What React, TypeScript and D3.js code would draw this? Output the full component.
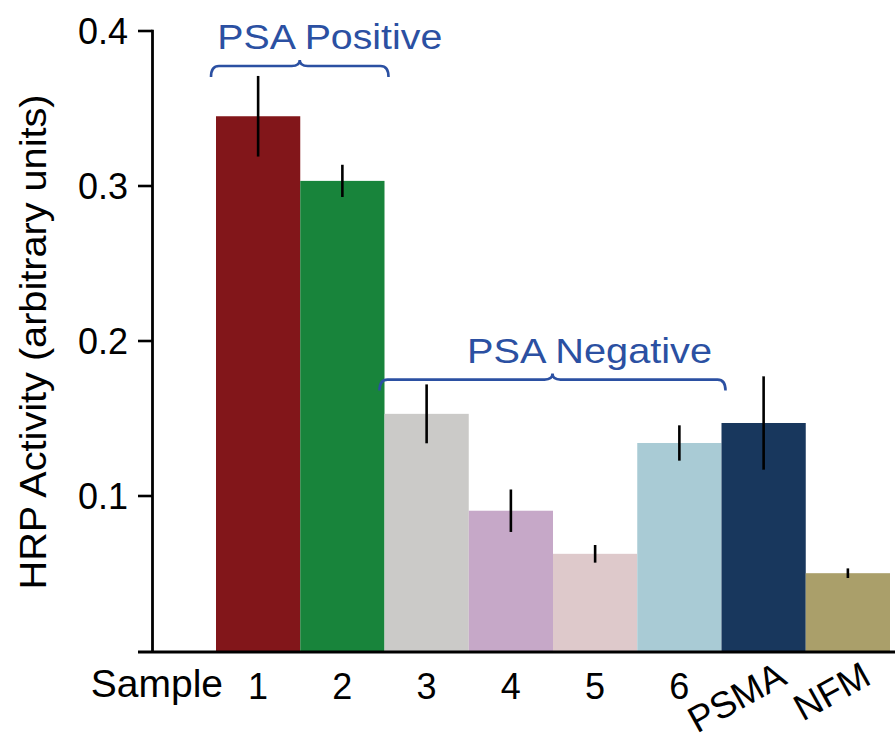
import React from "react";
import * as d3 from "d3";

const categories = ["1", "2", "3", "4", "5", "6", "PSMA", "NFM"];
const values = [0.345, 0.3033, 0.153, 0.0905, 0.0627, 0.1342, 0.1471, 0.0502];
const errors = [0.026, 0.0104, 0.019, 0.0137, 0.0057, 0.0114, 0.0301, 0.0031];
const colors = ["#82161a", "#18843b", "#cbcac8", "#c6a8c8", "#dec9cb", "#a9cbd5", "#18375d", "#aa9f6a"];
const yTicks = [0.1, 0.2, 0.3, 0.4];
const groupLabels = ["PSA Positive", "PSA Negative"];
const groupFrom = ["1", "3"];
const groupTo = ["2", "6"];
const groupLevel = [0.3774, 0.1751];

const W = 895;
const H = 745;

export default function App() {
  const x = d3.scaleBand<string>().domain(categories).range([216, 890]).padding(0);
  const y = d3.scaleLinear().domain([0, 0.4]).range([651, 31]);
  const axisX = 152.5;
  const rotated = new Set(["PSMA", "NFM"]);
  const blue = "#2b50a2";

  const brace = (x1: number, x2: number, yl: number) => {
    const xc = (x1 + x2) / 2;
    const r = 8;
    const drop = 11;
    const tip = 6;
    return `M${x1},${yl + drop} Q${x1},${yl} ${x1 + r},${yl} L${xc - r},${yl} Q${xc},${yl} ${xc},${yl - tip} Q${xc},${yl} ${xc + r},${yl} L${x2 - r},${yl} Q${x2},${yl} ${x2},${yl + drop}`;
  };

  const textStretch = [225, 245];
  const textOffset = [30, 37];

  return (
    <svg width={W} height={H} style={{ display: "block", position: "absolute", left: 0, top: 0 }} fontFamily="Arial, 'Liberation Sans', sans-serif">
      <rect width={W} height={H} fill="#fff" />
      {categories.map((c, i) => (
        <rect key={c} x={x(c)!} y={y(values[i])} width={x.bandwidth()} height={y(0) - y(values[i])} fill={colors[i]} />
      ))}
      {categories.map((c, i) => {
        const cx = x(c)! + x.bandwidth() / 2;
        return (
          <line key={"e" + c} x1={cx} x2={cx} y1={y(values[i] + errors[i])} y2={y(values[i] - errors[i])} stroke="#000" strokeWidth={2.6} />
        );
      })}
      {/* axes */}
      <line x1={138} x2={895} y1={652} y2={652} stroke="#000" strokeWidth={3} />
      <line x1={axisX} x2={axisX} y1={y(0.4) - 1.2} y2={652} stroke="#000" strokeWidth={2.8} />
      {yTicks.map((t) => (
        <g key={t}>
          <line x1={138} x2={axisX} y1={y(t)} y2={y(t)} stroke="#000" strokeWidth={2.6} />
          <text x={128} y={y(t)} dy="0.36em" textAnchor="end" fontSize={36} fill="#000">
            {d3.format(".1f")(t)}
          </text>
        </g>
      ))}
      <text transform={`translate(46,342) rotate(-90)`} textAnchor="middle" fontSize={36} textLength={495} lengthAdjust="spacingAndGlyphs" fill="#000">
        HRP Activity (arbitrary units)
      </text>
      {/* x labels */}
      <text x={223} y={697} textAnchor="end" fontSize={39} fill="#000">Sample</text>
      {categories.map((c) => {
        const cx = x(c)! + x.bandwidth() / 2;
        if (rotated.has(c)) {
          return (
            <text key={"l" + c} transform={`translate(${cx + 25},683) rotate(-29)`} textAnchor="end" fontSize={37} fill="#000">
              {c}
            </text>
          );
        }
        return (
          <text key={"l" + c} x={cx} y={699} textAnchor="middle" fontSize={36} fill="#000">
            {c}
          </text>
        );
      })}
      {/* group braces */}
      {groupLabels.map((g, i) => {
        const x1 = x(groupFrom[i])! - 5;
        const x2 = x(groupTo[i])! + x.bandwidth() + 4;
        const yl = y(groupLevel[i]);
        const xc = (x1 + x2) / 2;
        return (
          <g key={g}>
            <path d={brace(x1, x2, yl)} fill="none" stroke={blue} strokeWidth={2.6} />
            <text x={xc + textOffset[i]} y={yl - 17} textAnchor="middle" fontSize={35} textLength={textStretch[i]} lengthAdjust="spacingAndGlyphs" fill={blue}>
              {g}
            </text>
          </g>
        );
      })}
    </svg>
  );
}
